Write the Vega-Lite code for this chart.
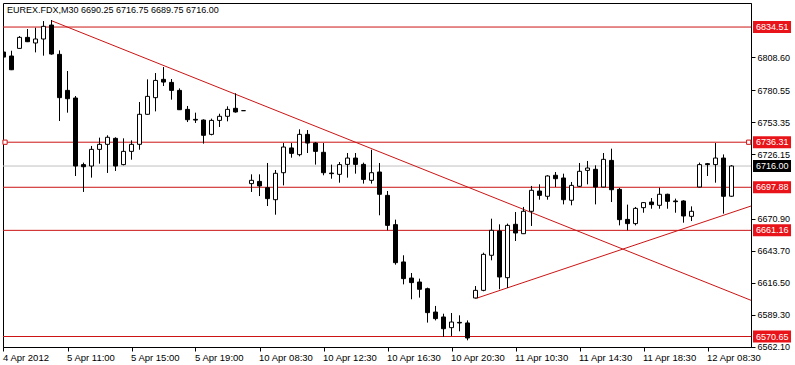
{
  "$schema": "https://vega.github.io/schema/vega-lite/v6.json",
  "width": 748,
  "height": 344,
  "autosize": {"type": "none"},
  "padding": {"left": 3, "top": 3, "right": 44, "bottom": 18},
  "background": "white",
  "title": {"text": "EUREX.FDX,M30  6690.25 6716.75 6689.75 6716.00", "anchor": "start", "frame": "group", "offset": -12, "fontSize": 9, "fontWeight": "normal", "font": "Liberation Sans", "color": "black", "dx": 4},
  "config": {
    "font": "Liberation Sans",
    "view": {"stroke": "black", "strokeWidth": 1},
    "axis": {"grid": false, "domainColor": "black", "tickColor": "black", "labelColor": "black", "labelFont": "Liberation Sans", "titleFontSize": 0}
  },
  "datasets": {
    "candles": [
      {"i":0,"o":6813.2,"h":6815.5,"l":6806.9,"c":6808.9},
      {"i":1,"o":6809.8,"h":6814.3,"l":6797.8,"c":6798.1},
      {"i":2,"o":6816.3,"h":6826.8,"l":6816.0,"c":6825.7},
      {"i":3,"o":6825.7,"h":6832.8,"l":6821.7,"c":6822.0},
      {"i":4,"o":6820.9,"h":6833.9,"l":6812.9,"c":6824.3},
      {"i":5,"o":6824.3,"h":6839.6,"l":6810.1,"c":6835.1},
      {"i":6,"o":6836.2,"h":6840.5,"l":6810.9,"c":6811.5},
      {"i":7,"o":6811.2,"h":6814.6,"l":6754.4,"c":6774.3},
      {"i":8,"o":6780.5,"h":6797.0,"l":6761.5,"c":6773.4},
      {"i":9,"o":6774.0,"h":6775.7,"l":6707.5,"c":6716.0},
      {"i":10,"o":6717.2,"h":6718.9,"l":6693.9,"c":6715.4},
      {"i":11,"o":6716.0,"h":6733.1,"l":6706.1,"c":6730.2},
      {"i":12,"o":6730.2,"h":6740.2,"l":6718.0,"c":6734.5},
      {"i":13,"o":6734.5,"h":6742.2,"l":6710.1,"c":6740.5},
      {"i":14,"o":6739.6,"h":6740.5,"l":6711.8,"c":6716.0},
      {"i":15,"o":6717.2,"h":6739.6,"l":6716.6,"c":6728.5},
      {"i":16,"o":6728.5,"h":6737.9,"l":6721.4,"c":6734.5},
      {"i":17,"o":6734.5,"h":6770.6,"l":6729.9,"c":6760.1},
      {"i":18,"o":6760.1,"h":6789.9,"l":6759.8,"c":6775.4},
      {"i":19,"o":6774.3,"h":6795.3,"l":6762.6,"c":6789.0},
      {"i":20,"o":6789.9,"h":6800.4,"l":6784.2,"c":6787.6},
      {"i":21,"o":6787.3,"h":6790.2,"l":6772.6,"c":6780.5},
      {"i":22,"o":6780.5,"h":6782.2,"l":6763.8,"c":6764.0},
      {"i":23,"o":6764.3,"h":6767.2,"l":6753.5,"c":6755.5},
      {"i":24,"o":6755.8,"h":6761.5,"l":6752.7,"c":6755.2},
      {"i":25,"o":6755.2,"h":6755.8,"l":6735.1,"c":6742.2},
      {"i":26,"o":6743.0,"h":6756.4,"l":6742.2,"c":6754.9},
      {"i":27,"o":6754.9,"h":6760.6,"l":6749.3,"c":6758.4},
      {"i":28,"o":6758.4,"h":6766.9,"l":6754.1,"c":6764.3},
      {"i":29,"o":6765.2,"h":6778.0,"l":6761.5,"c":6762.1},
      {"i":30,"o":6763.2,"h":6763.2,"l":6763.2,"c":6763.2},
      {"i":31,"o":6701.0,"h":6708.9,"l":6693.9,"c":6703.8},
      {"i":32,"o":6702.9,"h":6708.9,"l":6690.4,"c":6699.0},
      {"i":33,"o":6697.5,"h":6718.6,"l":6681.9,"c":6688.2},
      {"i":34,"o":6687.3,"h":6712.6,"l":6674.5,"c":6709.8},
      {"i":35,"o":6710.3,"h":6735.6,"l":6699.5,"c":6732.2},
      {"i":36,"o":6731.4,"h":6735.6,"l":6723.1,"c":6726.8},
      {"i":37,"o":6725.7,"h":6747.3,"l":6724.3,"c":6743.0},
      {"i":38,"o":6743.0,"h":6746.7,"l":6727.1,"c":6735.6},
      {"i":39,"o":6735.6,"h":6736.5,"l":6717.2,"c":6728.5},
      {"i":40,"o":6727.7,"h":6735.6,"l":6708.1,"c":6710.3},
      {"i":41,"o":6710.0,"h":6717.2,"l":6705.2,"c":6709.5},
      {"i":42,"o":6708.9,"h":6719.4,"l":6701.8,"c":6717.2},
      {"i":43,"o":6717.4,"h":6727.1,"l":6706.1,"c":6722.8},
      {"i":44,"o":6722.8,"h":6727.1,"l":6709.5,"c":6717.4},
      {"i":45,"o":6717.4,"h":6718.9,"l":6701.0,"c":6704.6},
      {"i":46,"o":6703.8,"h":6729.9,"l":6701.0,"c":6710.3},
      {"i":47,"o":6710.9,"h":6718.6,"l":6674.0,"c":6691.9},
      {"i":48,"o":6691.0,"h":6694.7,"l":6661.2,"c":6665.4},
      {"i":49,"o":6666.0,"h":6670.3,"l":6631.9,"c":6633.6},
      {"i":50,"o":6634.2,"h":6639.9,"l":6615.1,"c":6620.0},
      {"i":51,"o":6620.5,"h":6624.8,"l":6602.4,"c":6616.6},
      {"i":52,"o":6617.1,"h":6620.0,"l":6603.8,"c":6610.9},
      {"i":53,"o":6611.4,"h":6612.3,"l":6582.5,"c":6591.0},
      {"i":54,"o":6591.5,"h":6596.7,"l":6584.4,"c":6585.9},
      {"i":55,"o":6587.3,"h":6590.1,"l":6570.2,"c":6577.3},
      {"i":56,"o":6578.2,"h":6590.7,"l":6571.1,"c":6583.0},
      {"i":57,"o":6582.7,"h":6588.7,"l":6575.1,"c":6582.2},
      {"i":58,"o":6582.2,"h":6584.4,"l":6567.4,"c":6569.4},
      {"i":59,"o":6603.5,"h":6613.7,"l":6603.0,"c":6610.0},
      {"i":60,"o":6610.0,"h":6642.1,"l":6609.2,"c":6640.7},
      {"i":61,"o":6639.9,"h":6671.1,"l":6635.6,"c":6661.2},
      {"i":62,"o":6660.6,"h":6666.3,"l":6610.9,"c":6621.4},
      {"i":63,"o":6620.8,"h":6666.9,"l":6612.0,"c":6665.4},
      {"i":64,"o":6666.3,"h":6676.8,"l":6652.1,"c":6658.9},
      {"i":65,"o":6658.3,"h":6681.1,"l":6658.0,"c":6677.4},
      {"i":66,"o":6677.4,"h":6699.0,"l":6664.9,"c":6695.3},
      {"i":67,"o":6694.7,"h":6700.4,"l":6687.3,"c":6691.0},
      {"i":68,"o":6690.2,"h":6708.1,"l":6687.3,"c":6707.5},
      {"i":69,"o":6708.1,"h":6710.9,"l":6698.1,"c":6705.2},
      {"i":70,"o":6705.8,"h":6709.5,"l":6683.3,"c":6687.3},
      {"i":71,"o":6686.8,"h":6702.4,"l":6682.5,"c":6699.5},
      {"i":72,"o":6698.7,"h":6718.6,"l":6698.1,"c":6711.5},
      {"i":73,"o":6712.3,"h":6720.3,"l":6700.4,"c":6714.3},
      {"i":74,"o":6713.2,"h":6716.6,"l":6683.3,"c":6698.1},
      {"i":75,"o":6698.1,"h":6727.1,"l":6697.9,"c":6721.7},
      {"i":76,"o":6720.8,"h":6730.8,"l":6685.3,"c":6695.8},
      {"i":77,"o":6696.1,"h":6697.3,"l":6665.4,"c":6670.3},
      {"i":78,"o":6670.5,"h":6683.1,"l":6661.2,"c":6666.9},
      {"i":79,"o":6666.9,"h":6681.1,"l":6665.4,"c":6679.9},
      {"i":80,"o":6680.5,"h":6685.3,"l":6676.2,"c":6684.8},
      {"i":81,"o":6685.3,"h":6688.7,"l":6679.6,"c":6683.1},
      {"i":82,"o":6682.5,"h":6697.5,"l":6679.6,"c":6691.9},
      {"i":83,"o":6691.9,"h":6692.4,"l":6679.6,"c":6685.9},
      {"i":84,"o":6686.2,"h":6688.2,"l":6676.2,"c":6685.6},
      {"i":85,"o":6686.2,"h":6686.8,"l":6667.7,"c":6673.4},
      {"i":86,"o":6673.1,"h":6681.6,"l":6669.1,"c":6677.4},
      {"i":87,"o":6698.1,"h":6718.9,"l":6697.9,"c":6717.2},
      {"i":88,"o":6718.0,"h":6718.6,"l":6707.5,"c":6717.2},
      {"i":89,"o":6717.2,"h":6735.6,"l":6701.8,"c":6722.8},
      {"i":90,"o":6722.8,"h":6725.9,"l":6675.4,"c":6690.2},
      {"i":91,"o":6690.25,"h":6716.75,"l":6689.75,"c":6716.0}
    ],
    "levels": [
      {"p": 6834.51, "label": "6834.51", "kind": "level"},
      {"p": 6736.31, "label": "6736.31", "kind": "level"},
      {"p": 6716.00, "label": "6716.00", "kind": "bid"},
      {"p": 6697.88, "label": "6697.88", "kind": "level"},
      {"p": 6661.16, "label": "6661.16", "kind": "level"},
      {"p": 6570.65, "label": "6570.65", "kind": "level"}
    ],
    "trends": [
      {"id": "down", "x": 6, "p": 6839.9},
      {"id": "down", "x": 93.44, "p": 6601.5},
      {"id": "up", "x": 59.1, "p": 6603.2},
      {"id": "up", "x": 93.44, "p": 6681.9}
    ],
    "anchors": [
      {"x": 0.19, "p": 6736.31},
      {"x": 93.15, "p": 6736.31}
    ]
  },
  "layer": [
    {
      "data": {"name": "levels"},
      "transform": [{"filter": "datum.kind == 'bid'"}],
      "mark": {"type": "rule", "color": "#c0c0c0", "strokeWidth": 1},
      "encoding": {
        "y": {"field": "p", "type": "quantitative", "title": null,
              "scale": {"domain": [6561.7, 6855.0], "nice": false, "zero": false, "padding": 0},
              "axis": {"orient": "right", "values": [6562.10, 6589.30, 6616.50, 6643.70, 6670.90, 6726.15, 6753.35, 6780.55, 6808.60], "format": ".2f", "tickSize": 4, "labelPadding": 2, "labelFontSize": 9, "labelAlign": "left", "labelBaseline": "middle", "title": null, "labelOverlap": false, "labelBound": false, "labelFlush": false}}
      }
    },
    {
      "data": {"name": "levels"},
      "transform": [{"filter": "datum.kind == 'level'"}],
      "mark": {"type": "rule", "color": "#cc1414", "strokeWidth": 1},
      "encoding": {
        "y": {"field": "p", "type": "quantitative", "title": null}
      }
    },
    {
      "data": {"name": "trends"},
      "mark": {"type": "line", "color": "#cc1414", "strokeWidth": 1, "clip": true},
      "encoding": {
        "x": {"field": "x", "type": "quantitative", "title": null},
        "y": {"field": "p", "type": "quantitative", "title": null},
        "detail": {"field": "id"}
      }
    },
    {
      "data": {"name": "candles"},
      "mark": {"type": "rule", "color": "black", "strokeWidth": 1, "clip": true},
      "encoding": {
        "x": {"field": "i", "type": "quantitative", "title": null,
              "scale": {"domain": [-0.0625, 93.4375], "nice": false, "zero": false, "padding": 0},
              "axis": {"values": [0, 8, 16, 24, 32, 40, 48, 56, 64, 72, 80, 88],
                       "labelExpr": "['4 Apr 2012','5 Apr 11:00','5 Apr 15:00','5 Apr 19:00','10 Apr 08:30','10 Apr 12:30','10 Apr 16:30','10 Apr 20:30','11 Apr 10:30','11 Apr 14:30','11 Apr 18:30','12 Apr 08:30'][round(datum.value/8)]",
                       "labelAlign": "left", "labelOffset": -1, "labelPadding": 1, "tickSize": 4, "labelFontSize": 9.5, "labelBaseline": "top", "title": null, "labelOverlap": false, "labelBound": false, "labelFlush": false}},
        "y": {"field": "l", "type": "quantitative", "title": null},
        "y2": {"field": "h"}
      }
    },
    {
      "data": {"name": "candles"},
      "mark": {"type": "bar", "width": 4, "stroke": "black", "strokeWidth": 1, "clip": true},
      "encoding": {
        "x": {"field": "i", "type": "quantitative", "title": null},
        "y": {"field": "o", "type": "quantitative", "title": null},
        "y2": {"field": "c"},
        "fill": {"condition": {"test": "datum.c >= datum.o", "value": "white"}, "value": "black"}
      }
    },
    {
      "data": {"name": "anchors"},
      "mark": {"type": "point", "shape": "square", "size": 18, "filled": true, "fill": "white", "stroke": "#cc1414", "strokeWidth": 1, "opacity": 1},
      "encoding": {
        "x": {"field": "x", "type": "quantitative", "title": null},
        "y": {"field": "p", "type": "quantitative", "title": null}
      }
    },
    {
      "data": {"name": "levels"},
      "mark": {"type": "bar", "height": 12, "clip": false},
      "encoding": {
        "x": {"datum": 93.69},
        "x2": {"datum": 98.44},
        "y": {"field": "p", "type": "quantitative", "title": null},
        "color": {"condition": {"test": "datum.kind == 'bid'", "value": "black"}, "value": "#e8141a"}
      }
    },
    {
      "data": {"name": "levels"},
      "mark": {"type": "text", "align": "left", "baseline": "middle", "dx": 3, "fontSize": 9, "color": "white", "clip": false},
      "encoding": {
        "x": {"datum": 93.69},
        "y": {"field": "p", "type": "quantitative", "title": null},
        "text": {"field": "label"}
      }
    }
  ]
}
